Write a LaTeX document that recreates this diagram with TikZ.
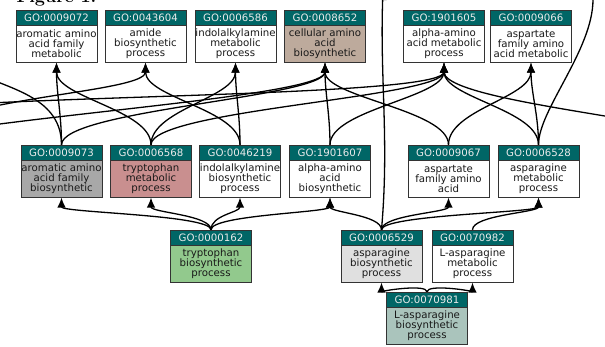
\documentclass[tikz,border=0pt]{standalone}
\usepackage{fontspec}
\newfontfamily\gofont{DejaVu Sans}
\usetikzlibrary{positioning,arrows.meta,backgrounds}

\definecolor{goteal}{RGB}{0,102,102}
\definecolor{gobrown}{RGB}{189,170,156}
\definecolor{gogray}{RGB}{168,168,168}
\definecolor{gopink}{RGB}{201,143,143}
\definecolor{gogreen}{RGB}{146,201,141}
\definecolor{golight}{RGB}{224,224,224}
\definecolor{gosage}{RGB}{170,196,188}

\newcommand{\goterm}[6]{%
  \node[gohead] (#1h) at (#2,#3) {GO:#4};
  \node[gobody, fill=#6, below=0pt of #1h] (#1) {#5};}

\begin{document}
\begin{tikzpicture}[x=1pt, y=1pt,
  gohead/.style = {draw=black!80, fill=goteal, text=white!92!black, minimum width=81pt,
    minimum height=15pt, inner sep=0pt, font=\gofont\fontsize{10.2}{10}\selectfont},
  gobody/.style = {draw=black!80, minimum width=81pt, minimum height=37pt,
    inner sep=0pt, align=center, text=black!90,
    font=\gofont\fontsize{10.2}{10}\selectfont},
  isa/.style = {draw, line width=1.3pt, -{Latex[length=10pt,width=8.5pt]}},
  rise/.style = {out=90, in=-90, distance=#1}]
  \useasboundingbox (0,0) rectangle (605,-347);
  \clip (0,0) rectangle (605,-347);
  \node[anchor=base west, font=\fontsize{18}{18}\selectfont\bfseries] (fig) at (13,-3) {Figure 1.};

  \goterm{a1}{56.5}{-17.5}{0009072}{aromatic amino\\acid family\\metabolic}{white}
  \goterm{a2}{145.5}{-17.5}{0043604}{amide\\biosynthetic\\process}{white}
  \goterm{a3}{235.5}{-17.5}{0006586}{indolalkylamine\\metabolic\\process}{white}
  \goterm{a4}{325}{-17.5}{0008652}{cellular amino\\acid\\biosynthetic}{gobrown}
  \goterm{a5}{444}{-17.5}{1901605}{alpha-amino\\acid metabolic\\process}{white}
  \goterm{a6}{531}{-17.5}{0009066}{aspartate\\family amino\\acid metabolic}{white}

  \goterm{b1}{61.5}{-152.5}{0009073}{aromatic amino\\acid family\\biosynthetic}{gogray}
  \goterm{b2}{151}{-152.5}{0006568}{tryptophan\\metabolic\\process}{gopink}
  \goterm{b3}{240}{-152.5}{0046219}{indolalkylamine\\biosynthetic\\process}{white}
  \goterm{b4}{330}{-152.5}{1901607}{alpha-amino\\acid\\biosynthetic}{white}
  \goterm{b5}{448.5}{-152.5}{0009067}{aspartate\\family amino\\acid}{white}
  \goterm{b6}{538.5}{-152.5}{0006528}{asparagine\\metabolic\\process}{white}

  \goterm{c1}{211}{-237.5}{0000162}{tryptophan\\biosynthetic\\process}{gogreen}
  \goterm{c2}{381.5}{-237.5}{0006529}{asparagine\\biosynthetic\\process}{golight}
  \goterm{c3}{472.5}{-237.5}{0070982}{L-asparagine\\metabolic\\process}{white}
  \goterm{d1}{427}{-299.5}{0070981}{L-asparagine\\biosynthetic\\process}{gosage}

  \coordinate (offL1) at (-30,-70);
  \coordinate (offL2) at (-30,-128);
  \coordinate (offL3) at (-30,-104);
  \coordinate (offL4) at (-30,-112);
  \coordinate (offR1) at (640,-122);
  \coordinate (offT1) at (383,10);
  \coordinate (offT2) at (593,10);

  \begin{scope}[on background layer]
  \clip (0,0) rectangle (605,-347);
  \path[isa] (b1h.north) to[rise=30pt] (a1.south);
  \path[isa] (b1h.north) to[rise=35pt] (a4.south);
  \path[isa] (b1h.north) to[out=90, in=-25] (offL1);
  \path[isa] (b2h.north) to[rise=35pt] (a1.south);
  \path[isa] (b2h.north) to[rise=35pt] (a3.south);
  \path[isa] (b2h.north) to[rise=35pt] (a5.south);
  \path[isa] (b3h.north) to[rise=30pt] (a3.south);
  \path[isa] (b3h.north) to[rise=35pt] (a2.south);
  \path[isa] (b4h.north) to[rise=30pt] (a4.south);
  \path[isa] (b4h.north) to[rise=35pt] (a5.south);
  \path[isa] (b5h.north) to[rise=35pt] (a6.south);
  \path[isa] (b5h.north) to[rise=35pt] (a4.south);
  \path[isa] (b6h.north) to[rise=30pt] (a6.south);
  \path[isa] (b6h.north) to[rise=35pt] (a5.south);
  \path[isa] (b6h.north) to[out=90, in=-90, out distance=35pt, in distance=60pt] (offT2);
  \path[isa] (offL2) to[out=8, in=-90, in distance=30pt] (a4.south);
  \path[isa] (offL3) to[out=3, in=-90, in distance=30pt] (a5.south);
  \path[isa] (offL4) to[out=15, in=-90, in distance=25pt] (a2.south);
  \path[isa] (offR1) to[out=170, in=-90, in distance=30pt] (a5.south);

  \path[isa] (c1h.north) to[rise=15pt] (b1.south);
  \path[isa] (c1h.north) to[rise=15pt] (b2.south);
  \path[isa] (c1h.north) to[rise=15pt] (b3.south);
  \path[isa] (c1h.north) to[rise=15pt] (b4.south);
  \path[isa] (c2h.north) to[rise=15pt] (b4.south);
  \path[isa] (c2h.north) to[rise=15pt] (b5.south);
  \path[isa] (c2h.north) to[rise=15pt] (b6.south);
  \path[isa] (c2h.north) to[out=85, in=-92, distance=90pt] (offT1);
  \path[isa] (c3h.north) to[rise=15pt] (b6.south);
  \path[isa] (d1h.north) to[rise=8pt] (c2.south);
  \path[isa] (d1h.north) to[rise=8pt] (c3.south);
  \end{scope}
\end{tikzpicture}
\end{document}
